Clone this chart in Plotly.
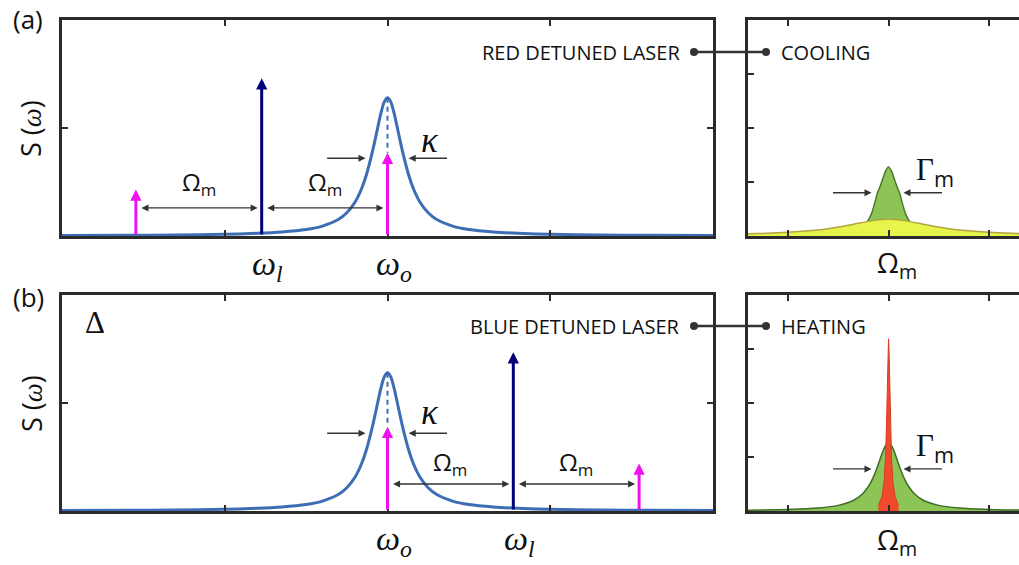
import plotly.graph_objects as go

W, H = 1019, 565
def px(x): return x / W
def py(y): return 1 - y / H

# ---------------- data ----------------
omega_m = 0.773                      # mechanical frequency (x units)
cavity_a, laser_a = 2.0, 1.227       # panel (a)
cavity_b, laser_b = 2.0, 2.773       # panel (b)
laser_h_a, laser_h_b = 1.46, 1.47
sb_h_a = [0.43, 0.77]                # lower, upper sideband heights (a)
sb_h_b = [0.78, 0.44]                # lower, upper sideband heights (b)

# cavity resonance half-profile (offset from centre, height)
cav_off = [0, 0.02, 0.04, 0.06, 0.08, 0.10, 0.13, 0.16, 0.20, 0.25, 0.30, 0.40,
           0.50, 0.65, 0.80, 1.00, 1.30, 1.60, 2.00]
cav_h = [1.28, 1.242, 1.14, 1.005, 0.865, 0.735, 0.565, 0.435, 0.312, 0.215, 0.155,
         0.092, 0.060, 0.037, 0.025, 0.016, 0.0098, 0.0065, 0.0042]

# mechanical spectra, centred at Omega_m (=2 on right axes)
mech_c = 2.0
cool_off = [0, 0.03, 0.06, 0.09, 0.11, 0.14, 0.17, 0.20, 0.25, 0.35, 0.60, 1.00, 1.40]
cool_h = [1.28, 1.20, 1.04, 0.89, 0.80, 0.59, 0.41, 0.30, 0.185, 0.093, 0.037, 0.01, 0.005]
broad_off = [0, 0.10, 0.20, 0.30, 0.45, 0.60, 0.80, 1.00, 1.30, 1.60]
broad_h = [0.31, 0.299, 0.271, 0.236, 0.180, 0.136, 0.095, 0.068, 0.044, 0.031]
heat_off = [0, 0.03, 0.06, 0.09, 0.12, 0.16, 0.20, 0.26, 0.35, 0.50, 0.70, 1.00, 1.40]
heat_h = [1.26, 1.21, 1.086, 0.926, 0.768, 0.59, 0.454, 0.315, 0.195, 0.104, 0.055, 0.028, 0.0145]
spike_off = [0, 0.005, 0.01, 0.015, 0.02, 0.03, 0.045, 0.065, 0.10]
spike_h = [3.19, 3.0, 2.55, 2.04, 1.595, 0.98, 0.52, 0.275, 0.10]

def mirror(c, off, h):
    xs = [c - o for o in reversed(off)] + [c + o for o in off[1:]]
    ys = list(reversed(h)) + list(h[1:])
    return xs, ys

SANS = "Open Sans"
SERIF = "Liberation Serif"
FRAME = "#2b2b2b"
CURVE = "#3d6db4"
MAG = "#f010f0"
NAVY = "#00007a"

fig = go.Figure()

# cavity curves
for ax, c in [("", cavity_a), ("3", cavity_b)]:
    xs, ys = mirror(c, cav_off, cav_h)
    fig.add_trace(go.Scatter(x=xs, y=ys, mode="lines", line=dict(color=CURVE, width=3, shape="spline", smoothing=0.8),
                             xaxis="x" + ax, yaxis="y" + ax, hoverinfo="skip"))

# dashed centre lines
fig.add_trace(go.Scatter(x=[cavity_a, cavity_a], y=[cav_h[0], sb_h_a[1]], mode="lines",
                         line=dict(color=CURVE, width=2, dash="5px,4px"), xaxis="x", yaxis="y"))
fig.add_trace(go.Scatter(x=[cavity_b, cavity_b], y=[cav_h[0], sb_h_b[0]], mode="lines",
                         line=dict(color=CURVE, width=2, dash="5px,4px"), xaxis="x3", yaxis="y3"))

# right panels
xs, ys = mirror(mech_c, cool_off, cool_h)
fig.add_trace(go.Scatter(x=xs, y=ys, mode="lines", fill="tozeroy", fillcolor="#8cc455",
                         line=dict(color="#4a7a2c", width=1.5, shape="spline", smoothing=0.6), xaxis="x2", yaxis="y2"))
xs, ys = mirror(mech_c, broad_off, broad_h)
fig.add_trace(go.Scatter(x=xs, y=ys, mode="lines", fill="tozeroy", fillcolor="#e6f54c",
                         line=dict(color="#b3a440", width=1.5, shape="spline", smoothing=0.6), xaxis="x2", yaxis="y2"))
xs, ys = mirror(mech_c, heat_off, heat_h)
fig.add_trace(go.Scatter(x=xs, y=ys, mode="lines", fill="tozeroy", fillcolor="#8cc455",
                         line=dict(color="#3f6d28", width=1.5, shape="spline", smoothing=0.6), xaxis="x4", yaxis="y4"))
xs, ys = mirror(mech_c, spike_off, spike_h)
fig.add_trace(go.Scatter(x=xs, y=ys, mode="lines", fill="tozeroy", fillcolor="#ef4a2d",
                         line=dict(color="#d83c24", width=1), xaxis="x4", yaxis="y4"))

ann = []
def varrow(x, h, color, xr, yr):
    ann.append(dict(x=x, y=h, ax=x, ay=0, xref=xr, yref=yr, axref=xr, ayref=yr, text="",
                    showarrow=True, arrowhead=2, arrowsize=0.75, arrowwidth=3, arrowcolor=color))

def harrow(x0, x1, y, xr, yr, both=False):
    d = dict(x=x1, y=y, ax=x0, ay=y, xref=xr, yref=yr, axref=xr, ayref=yr, text="",
             showarrow=True, arrowhead=2, arrowsize=1.0, arrowwidth=1.4, arrowcolor="#333333")
    if both:
        d.update(arrowside="end+start", startarrowhead=2, startarrowsize=1.0)
    ann.append(d)

def text(x, y, t, size, xr="paper", yr="paper", family=SANS, xanchor="center", **kw):
    ann.append(dict(x=x, y=y, xref=xr, yref=yr, text=t, showarrow=False,
                    xanchor=xanchor, yanchor="middle",
                    font=dict(family=family, size=size, color="#111111"), **kw))

gap = 0.025
# panel (a)
varrow(laser_a, laser_h_a, NAVY, "x", "y")
varrow(laser_a - omega_m, sb_h_a[0], MAG, "x", "y")
varrow(laser_a + omega_m, sb_h_a[1], MAG, "x", "y")
harrow(laser_a - omega_m + gap, laser_a - gap, 0.26, "x", "y", True)
harrow(laser_a + gap, laser_a + omega_m - gap, 0.26, "x", "y", True)
harrow(1.62, 1.865, 0.72, "x", "y")
harrow(2.375, 2.13, 0.72, "x", "y")
OM = "Ω<sub>m</sub>"
text(laser_a - omega_m / 2, 0.49, OM, 24, "x", "y")
text(laser_a + omega_m / 2, 0.49, OM, 24, "x", "y")
text(2.26, 0.88, "<i>κ</i>", 35, "x", "y", family=SERIF)

# panel (b)
varrow(laser_b, laser_h_b, NAVY, "x3", "y3")
varrow(laser_b - omega_m, sb_h_b[0], MAG, "x3", "y3")
varrow(laser_b + omega_m, sb_h_b[1], MAG, "x3", "y3")
harrow(laser_b - omega_m + gap, laser_b - gap, 0.25, "x3", "y3", True)
harrow(laser_b + gap, laser_b + omega_m - gap, 0.25, "x3", "y3", True)
harrow(1.62, 1.865, 0.72, "x3", "y3")
harrow(2.375, 2.13, 0.72, "x3", "y3")
text(laser_b - omega_m / 2, 0.44, OM, 24, "x3", "y3")
text(laser_b + omega_m / 2, 0.44, OM, 24, "x3", "y3")
text(2.26, 0.91, "<i>κ</i>", 35, "x3", "y3", family=SERIF)

# Gamma arrows
for xr, yr, y, ty in [("x2", "y2", 0.80, 1.17), ("x4", "y4", 0.78, 1.15)]:
    harrow(1.433, 1.831, y, xr, yr)
    harrow(2.547, 2.149, y, xr, yr)
    text(2.46, ty, '<span style="font-family:Liberation Serif">Γ</span><sub>m</sub>', 31, xr, yr)

# omega labels under axes
WL = "<i>ω<sub>l</sub></i>"
WO = "<i>ω<sub>o</sub></i>"
text(laser_a, py(266), WL, 34, "x", "paper", family=SERIF, xshift=6)
text(cavity_a, py(266), WO, 34, "x", "paper", family=SERIF, xshift=6)
text(cavity_b, py(541), WO, 34, "x3", "paper", family=SERIF, xshift=6)
text(laser_b, py(541), WL, 34, "x3", "paper", family=SERIF, xshift=6)
text(mech_c, py(264), OM, 28, "x2", "paper", xshift=8)
text(mech_c, py(541), OM, 28, "x4", "paper", xshift=8)

# y labels
SW = 'S (<span style="font-family:Liberation Serif"><i>ω</i></span>)'
text(px(31), py(129), SW, 27, textangle=-90)
text(px(31), py(404), SW, 27, textangle=-90)

# panel letters
text(px(28), py(19), "(a)", 26)
text(px(28), py(297), "(b)", 26)
text(px(95), py(322), "Δ", 31, family=SERIF)

# laser / effect labels
text(px(682), py(52), "RED DETUNED LASER", 20, xanchor="right")
text(px(779), py(52), "COOLING", 20, xanchor="left")
text(px(682), py(326), "BLUE DETUNED LASER", 20, xanchor="right")
text(px(779), py(326), "HEATING", 20, xanchor="left")

shapes = []
for yy in [52, 326]:
    shapes.append(dict(type="line", xref="paper", yref="paper", x0=px(694), x1=px(766),
                       y0=py(yy), y1=py(yy), line=dict(color="#333333", width=2.5)))
    for xx in [694, 766]:
        shapes.append(dict(type="circle", xref="paper", yref="paper", x0=px(xx - 4), x1=px(xx + 4),
                           y0=py(yy + 4), y1=py(yy - 4), fillcolor="#333333", line=dict(width=0)))

ax_common = dict(showgrid=False, zeroline=False, showticklabels=False, ticks="inside",
                 ticklen=6, tickwidth=2, tickcolor=FRAME, showline=True, linewidth=3, linecolor=FRAME,
                 fixedrange=True)
xr_right = [1 - 40 / 100.5, 3 + 30 / 100.5]

fig.update_layout(
    width=W, height=H, margin=dict(l=0, r=0, t=0, b=0),
    paper_bgcolor="white", plot_bgcolor="white", showlegend=False,
    annotations=ann, shapes=shapes,
    xaxis=dict(domain=[px(62), px(713)], range=[0, 4], tickvals=[1, 2, 3], mirror="ticks", anchor="y", **ax_common),
    yaxis=dict(domain=[py(236), py(20)], range=[0, 2], tickvals=[1], mirror="ticks", anchor="x", **ax_common),
    xaxis2=dict(domain=[px(748), 1], range=xr_right, tickvals=[1, 2, 3], mirror="ticks", anchor="y2", **ax_common),
    yaxis2=dict(domain=[py(236), py(20)], range=[0, 4], tickvals=[1, 2, 3], mirror=False, anchor="x2", **ax_common),
    xaxis3=dict(domain=[px(62), px(713)], range=[0, 4], tickvals=[1, 2, 3], mirror="ticks", anchor="y3", **ax_common),
    yaxis3=dict(domain=[py(511), py(295)], range=[0, 2], tickvals=[1], mirror="ticks", anchor="x3", **ax_common),
    xaxis4=dict(domain=[px(748), 1], range=xr_right, tickvals=[1, 2, 3], mirror="ticks", anchor="y4", **ax_common),
    yaxis4=dict(domain=[py(511), py(295)], range=[0, 4], tickvals=[1, 2, 3], mirror=False, anchor="x4", **ax_common),
)

fig.write_html("out.html")
